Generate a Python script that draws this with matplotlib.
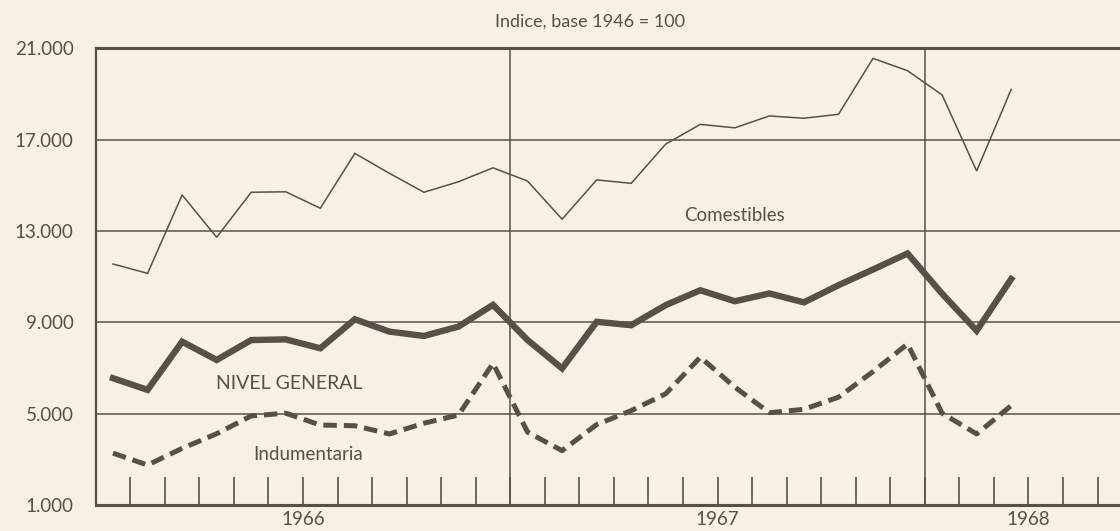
import matplotlib
matplotlib.use("Agg")
import matplotlib.pyplot as plt
import numpy as np

# ---- data (monthly, Jan 1966 .. Mar 1968) ----
months = ["1966-01", "1966-02", "1966-03", "1966-04", "1966-05", "1966-06",
          "1966-07", "1966-08", "1966-09", "1966-10", "1966-11", "1966-12",
          "1967-01", "1967-02", "1967-03", "1967-04", "1967-05", "1967-06",
          "1967-07", "1967-08", "1967-09", "1967-10", "1967-11", "1967-12",
          "1968-01", "1968-02", "1968-03"]

comestibles = [11560, 11150, 14580, 12730, 14700, 14720, 14000, 16400, 15530,
               14700, 15160, 15770, 15190, 13520, 15240, 15090, 16810, 17670,
               17520, 18040, 17940, 18110, 20560, 20020, 18960, 15630, 19200]

nivel_general = [6560, 6050, 8160, 7360, 8230, 8260, 7870, 9140, 8600,
                 8410, 8820, 9770, 8230, 6990, 9030, 8880, 9760, 10410,
                 9930, 10270, 9880, 10630, 11320, 12020, 10260, 8640, 10900]

indumentaria = [3280, 2760, 3490, 4130, 4910, 5030, 4510, 4480, 4120,
                4590, 4950, 7210, 4200, 3390, 4530, 5140, 5880, 7480,
                6170, 5050, 5200, 5730, 6850, 8060, 5030, 4120, 5360]

ytick_values = [1000, 5000, 9000, 13000, 17000, 21000]
ytick_labels = ["1.000", "5.000", "9.000", "13.000", "17.000", "21.000"]
year_labels = ["1966", "1967", "1968"]
year_label_pos = [6.0, 18.0, 27.0]
year_bounds = [12, 24]

# ---- style ----
BG = "#f8f1e3"
INK = "#5b4d48"
plt.rcParams["font.family"] = ["Lato", "DejaVu Sans"]

fig = plt.figure(figsize=(11.2, 5.31), dpi=100, facecolor=BG)
ax = fig.add_axes([0.0855, 0.0485, 1.0 - 0.0855, 0.909 - 0.0485])
ax.set_facecolor(BG)

x = np.arange(len(months)) + 0.5

ax.set_xlim(0, 29.65)
ax.set_ylim(1000, 21000)

# horizontal rules
for v in ytick_values[1:-1]:
    ax.axhline(v, color=INK, lw=1.1, zorder=1)
# year separators
for b in year_bounds:
    ax.axvline(b, color=INK, lw=1.1, zorder=1)

ax.plot(x, comestibles, color=INK, lw=1.1, zorder=3, solid_joinstyle="miter")
ax.plot(x, nivel_general, color=INK, lw=4.6, zorder=3, solid_joinstyle="miter")
ax.plot(x, indumentaria, color=INK, lw=3.6, zorder=3, dashes=(2.7, 1.4))

# spines
ax.spines["right"].set_visible(False)
ax.spines["top"].set_linewidth(2.2)
ax.spines["left"].set_linewidth(1.6)
ax.spines["bottom"].set_linewidth(2.2)
for s in ["top", "left", "bottom"]:
    ax.spines[s].set_color(INK)

# ticks
ax.set_xticks(np.arange(1, 30))
ax.set_xticklabels([])
ax.tick_params(axis="x", direction="in", length=20, width=1.2, color=INK)
ax.set_yticks(ytick_values)
ax.set_yticklabels(ytick_labels)
ax.tick_params(axis="y", length=0, pad=16, labelsize=13.5, labelcolor=INK)

for lbl, pos in zip(year_labels, year_label_pos):
    ax.text(pos, -0.032, lbl, transform=ax.get_xaxis_transform(),
            ha="center", va="center", fontsize=13.5, color=INK, clip_on=False)

ax.text(18.5, 13700, "Comestibles", ha="center", va="center", fontsize=13.5, color=INK)
ax.text(5.6, 6350, "NIVEL GENERAL", ha="center", va="center", fontsize=14, color=INK)
ax.text(6.15, 3200, "Indumentaria", ha="center", va="center", fontsize=13.5, color=INK)

fig.text(590 / 1120, 1 - 22 / 531, "Indice, base 1946 = 100", ha="center",
         va="center", fontsize=13, color=INK)

fig.savefig("out.png", dpi=100, facecolor=BG)
